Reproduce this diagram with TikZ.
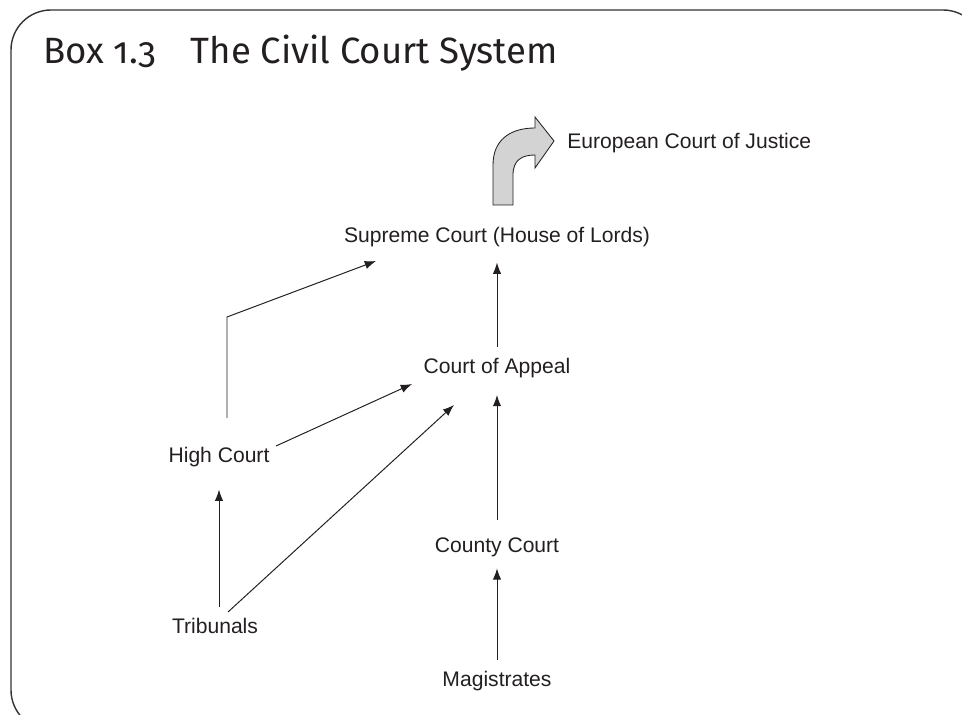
\documentclass[tikz,border=0pt]{standalone}
\usepackage{fontspec}
\setmainfont{Liberation Sans}
\newfontfamily\boxtitlefont[Numbers=OldStyle]{Fira Sans}
\usetikzlibrary{arrows.meta,calc}
\definecolor{inkgray}{HTML}{231F20}
\definecolor{arrowfill}{HTML}{D3D3D3}

\begin{document}
\begin{tikzpicture}[x=0.025cm, y=-0.025cm,
    court/.style={text=inkgray, font=\fontsize{15}{18}\selectfont, inner sep=8pt, text height=11pt, text depth=3pt},
    link/.style={-{Latex[length=8pt,width=6pt]}, line width=0.7pt, draw=inkgray}]

    \useasboundingbox (0,0) rectangle (962,715);
    \begin{scope}
        \clip (0,0) rectangle (962,715);
        \draw [line width=1pt, draw=black!80, rounded corners=1cm] (11,10) rectangle (983,730);
    \end{scope}

    \node [anchor=base west, inner sep=0, text=inkgray, font=\boxtitlefont\fontsize{26}{31}\selectfont] (title) at (43,64) {Box 1.3\hspace{0.95em}The Civil Court System};

    \node [court] (sc) at (497, 237) {Supreme Court (House of Lords)};
    \node [court] (coa) at (497, 368) {Court of Appeal};
    \node [court] (hc) at (219, 457) {High Court};
    \node [court] (cc) at (497, 547) {County Court};
    \node [court] (trib) at (215, 628) {Tribunals};
    \node [court] (mag) at (497, 681) {Magistrates};
    \node [court, inner sep=0, anchor=west] (ecj) at (567, 143) {European Court of Justice};

    \draw [line width=0.6pt, draw=inkgray, fill=arrowfill] (493,205) -- (493,165)
        .. controls (493,140) and (510,128) .. (535,128) -- (535,117) -- (554,141)
        -- (535,168) -- (535,155) .. controls (522,155) and (513,160) .. (513,175)
        -- (513,205) -- cycle;

    \draw [link] (mag) -- (cc);
    \draw [link, shorten <=4pt, shorten >=4pt] (cc) -- (coa);
    \draw [link, shorten >=3pt] (coa) -- (sc);

    \draw [link, shorten >=8pt] (hc.south |- trib.north) -- (hc.south);
    \draw [link] ($(trib)+(13,-16)$) -- ($(coa)+(-43,37)$);
    \draw [link] ($(hc)+(57,-11)$) -- ($(coa)+(-85,16)$);
    \draw [link] ($(hc)+(8,-39)$) -- ++(0,-101) -- ($(sc)+(-121,24)$);
\end{tikzpicture}
\end{document}
